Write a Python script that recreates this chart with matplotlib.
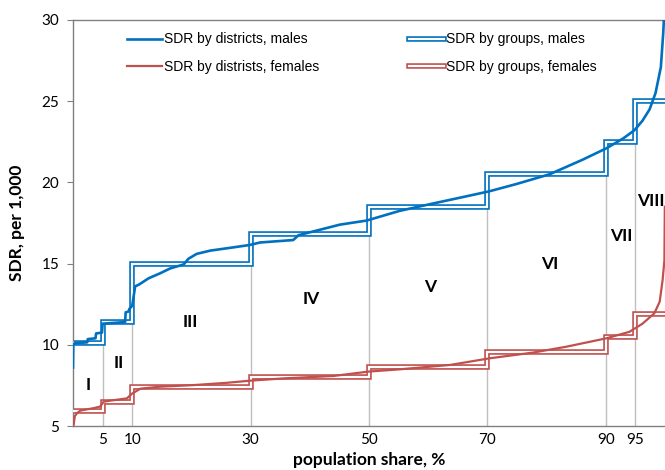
import numpy as np
import matplotlib
matplotlib.use('Agg')
import matplotlib.pyplot as plt

# group boundaries (population share, %) and group mean SDR
edges = [0, 5, 10, 30, 50, 70, 90, 95, 100]
males_groups = [10.1, 11.4, 15.0, 16.8, 18.5, 20.5, 22.5, 25.0]
females_groups = [5.9, 6.5, 7.4, 8.0, 8.65, 9.55, 10.5, 11.9]
group_names = ['I', 'II', 'III', 'IV', 'V', 'VI', 'VII', 'VIII']
tick_pos = [5, 10, 30, 50, 70, 90, 95]

# district curves
males_x = [0, 0.05, 0.3, 2.4, 2.5, 3.8, 3.9, 4.9, 5.0, 8.8, 8.9, 9.4, 9.5, 10.0,
           10.5, 11.1, 12.8, 14.7, 16.4, 18.7, 19.5, 20.9, 23.2, 27.1, 29.9, 31.6,
           37.2, 38.1, 45.1, 49.6, 55.2, 60.8, 65.9, 70.3, 74.9, 80.5, 86.1, 90.1,
           92.9, 94.8, 96.2, 97.4, 98.4, 99.3, 99.7, 99.95]
males_y = [8.6, 10.0, 10.1, 10.15, 10.35, 10.4, 10.7, 10.75, 11.3, 11.4, 12.0, 12.05,
           12.2, 12.4, 13.6, 13.7, 14.1, 14.4, 14.7, 14.95, 15.3, 15.6, 15.8, 16.0,
           16.15, 16.3, 16.45, 16.75, 17.4, 17.65, 18.25, 18.7, 19.1, 19.45, 19.9,
           20.5, 21.4, 22.1, 22.7, 23.2, 23.8, 24.5, 25.5, 27.1, 29.2, 31.0]
females_x = [0.1, 0.3, 0.7, 1.25, 3.5, 4.6, 5.2, 6.3, 9.1, 10.0, 11.4, 14.7, 20.4,
             26.0, 29.9, 35.5, 44.0, 49.9, 55.2, 63.7, 70.4, 77.7, 83.3, 90.1, 94.0,
             96.2, 98.2, 99.1, 99.6, 99.9, 99.97]
females_y = [5.05, 5.6, 5.8, 5.95, 6.1, 6.2, 6.5, 6.56, 6.7, 7.0, 7.3, 7.42, 7.52,
             7.66, 7.79, 7.93, 8.08, 8.35, 8.49, 8.76, 9.17, 9.52, 9.88, 10.4, 10.8,
             11.3, 11.94, 12.65, 14.0, 15.2, 18.5]

# label positions for groups
name_x = [2.6, 7.7, 19.8, 40.2, 60.3, 80.5, 92.6, 95.3]
name_y = [7.5, 8.9, 11.4, 12.8, 13.55, 15.0, 16.7, 18.85]

blue = '#0070C0'
red = '#C0504D'
gray = '#BFBFBF'

fig = plt.figure(figsize=(6.65, 4.70), dpi=100)
ax = fig.add_axes([73 / 665, 44 / 470, 592 / 665, 406 / 470])
ax.set_xlim(0, 100)
ax.set_ylim(5, 30)

# vertical group separators
for i, p in enumerate(tick_pos):
    ax.plot([p, p], [5, males_groups[i]], color=gray, lw=1, zorder=1)

# group step lines drawn as double lines
def double_step(vals, color):
    y = vals + [vals[-1]]
    outer, = ax.plot(edges, y, drawstyle='steps-post', color=color, lw=4.0,
                     solid_joinstyle='miter', zorder=2)
    inner, = ax.plot(edges, y, drawstyle='steps-post', color='white', lw=1.6,
                     solid_joinstyle='miter', zorder=3)
    return outer, inner

gm = double_step(males_groups, blue)
gf = double_step(females_groups, red)

dm, = ax.plot(males_x, males_y, color=blue, lw=1.9, zorder=4)
df, = ax.plot(females_x, females_y, color=red, lw=1.6, zorder=4)

for name, x, y in zip(group_names, name_x, name_y):
    ha = 'left' if name == 'VIII' else 'center'
    ax.text(x, y, name, ha=ha, va='center', fontsize=12.5, fontweight='bold',
            family='Lato', color='black')

leg1 = ax.legend([dm, df], ['SDR by districts, males', 'SDR by distrists, females'],
                 loc='upper left', bbox_to_anchor=(0.07, 1.0), frameon=False,
                 prop={'family': 'Liberation Sans', 'size': 10},
                 handlelength=2.5, handletextpad=0.15, labelspacing=0.95)
ax.add_artist(leg1)
ax.legend([gm, gf], ['SDR by groups, males', 'SDR by groups, females'],
          loc='upper left', bbox_to_anchor=(0.547, 1.0), frameon=False,
          prop={'family': 'Liberation Sans', 'size': 10},
          handlelength=2.5, handletextpad=0.15, labelspacing=0.95)

ax.set_xticks(tick_pos)
ax.set_xticklabels([str(t) for t in tick_pos], family='Lato', fontsize=11)
ax.set_yticks([5, 10, 15, 20, 25, 30])
ax.set_yticklabels(['5', '10', '15', '20', '25', '30'], family='Lato', fontsize=11)
ax.tick_params(axis='x', length=0, pad=5)
ax.tick_params(axis='y', length=4, color='#808080', pad=6)

ax.set_xlabel('population share, %', family='Lato', fontweight='bold', fontsize=12.5,
              labelpad=4)
ax.set_ylabel('SDR, per 1,000', family='Lato', fontweight='bold', fontsize=12.5,
              labelpad=12)

for s in ['left', 'bottom', 'top']:
    ax.spines[s].set_color('#808080')
    ax.spines[s].set_linewidth(1)
ax.spines['right'].set_visible(False)

fig.savefig('out.png', dpi=100)
